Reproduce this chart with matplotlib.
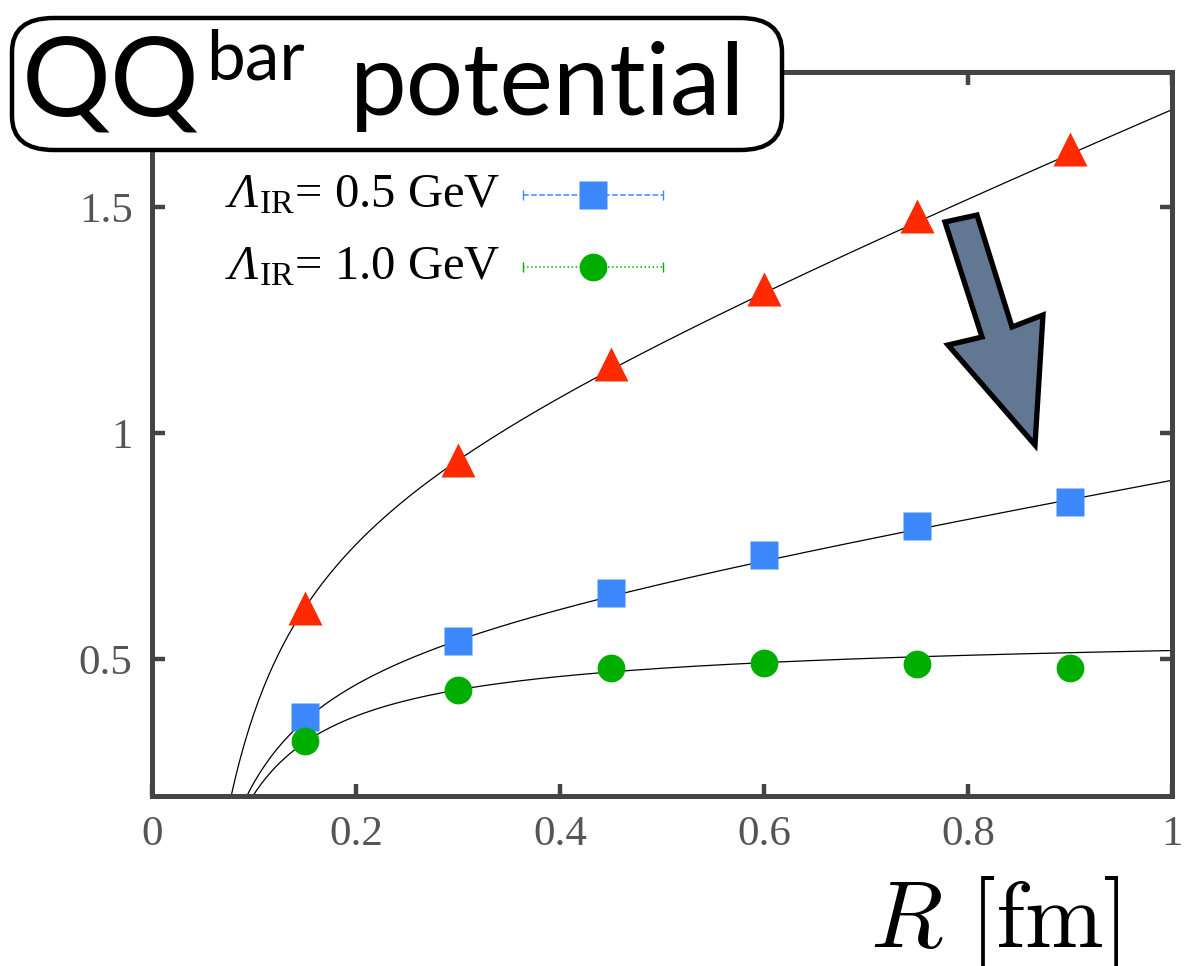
import numpy as np
import matplotlib
matplotlib.use('Agg')
import matplotlib.pyplot as plt
from matplotlib.patches import FancyBboxPatch, Polygon
from matplotlib.lines import Line2D

# data
R = [0.15, 0.30, 0.45, 0.60, 0.75, 0.90]
V_tri = [0.613, 0.941, 1.152, 1.320, 1.480, 1.629]
V_sq = [0.371, 0.540, 0.646, 0.731, 0.795, 0.848]
V_circ = [0.318, 0.431, 0.480, 0.491, 0.489, 0.480]

# fit curves V(R) = c + sigma*R - alpha/R, parameters estimated from the drawn lines
fit_c = [0.851, 0.543, 0.543]
fit_sigma = [0.922, 0.388, 0.0097]
fit_alpha = [0.0564, 0.0356, 0.0344]

legend_sym = 'Λ'
legend_labels = [r'${}_{\mathrm{IR}}$= 0.5 GeV', r'${}_{\mathrm{IR}}$= 1.0 GeV']

xticks = [0, 0.2, 0.4, 0.6, 0.8, 1]
xticklabels = ['0', '0.2', '0.4', '0.6', '0.8', '1']
yticks = [0.5, 1, 1.5]
yticklabels = ['0.5', '1', '1.5']

c_red = '#ff2a00'
c_blue = '#3d88fb'
c_green = '#00ae00'
spine_col = '#454443'

plt.rcParams['mathtext.fontset'] = 'custom'
plt.rcParams['mathtext.rm'] = 'Liberation Serif'
plt.rcParams['mathtext.it'] = 'Liberation Serif:italic'

W, H = 1190, 966
fig = plt.figure(figsize=(W/100, H/100), dpi=100)
ax = fig.add_axes([152/W, 1-796/H, (1172-152)/W, (796-72)/H])

rr = np.linspace(0.05, 1.0, 400)
for c, s, a in zip(fit_c, fit_sigma, fit_alpha):
    ax.plot(rr, c + s*rr - a/rr, '-k', lw=0.9, zorder=2)

ax.plot(R, V_tri, ls='none', marker='^', ms=25, color=c_red, mec='none', zorder=3)
ax.plot(R, V_sq, ls='none', marker='s', ms=20, color=c_blue, mec='none', zorder=3)
ax.plot(R, V_circ, ls='none', marker='o', ms=20, color=c_green, mec='none', zorder=3)

ax.set_xlim(0, 1)
ax.set_ylim(0.196, 1.8)
ax.set_xticks(xticks)
ax.set_xticklabels(xticklabels)
ax.set_yticks(yticks)
ax.set_yticklabels(yticklabels)
ax.tick_params(direction='in', length=9, width=3.2, color=spine_col,
               top=True, right=True, labelsize=31, labelcolor='#555555', pad=14)
for lab in ax.get_xticklabels() + ax.get_yticklabels():
    lab.set_family('Liberation Serif')
for sp in ax.spines.values():
    sp.set_linewidth(3.6)
    sp.set_color(spine_col)

# hand-made legend
renderer = fig.canvas.get_renderer()
for i, (lab, col, mk, ls) in enumerate(zip(legend_labels, [c_blue, c_green], ['s', 'o'], ['--', ':'])):
    ypx = 195 + 72*i
    t = fig.text(500/W, 1-(ypx+12)/H, lab, ha='right', va='baseline',
                 fontsize=35, family='Liberation Serif')
    left = t.get_window_extent(renderer).x0
    fig.text((left - 1)/W, 1-(ypx+12)/H, legend_sym, ha='right', va='baseline',
             fontsize=35, family='Liberation Serif', style='italic')
    yy = 1 - (ypx - 72)/(796-72)
    x0, x1 = (523-152)/1020, (663-152)/1020
    ax.add_line(Line2D([x0, x1], [yy, yy], transform=ax.transAxes, color=col, ls=ls, lw=1.1))
    ax.add_line(Line2D([x0, x1], [yy, yy], transform=ax.transAxes, color=col, ls='none',
                       marker='|', ms=7, mew=1.0))
    ax.add_line(Line2D([(x0+x1)/2], [yy], transform=ax.transAxes, color=col, ls='none',
                       marker=mk, ms=20, mec='none'))

# x label
fig.text(995/W, 1-947/H, r'$R\ [\mathrm{fm}]$', ha='center', va='baseline',
         fontsize=68, math_fontfamily='cm')

# arrow
arrow_px = [(945, 222), (977, 215), (1012, 327), (1043, 315), (1035, 445), (948, 345), (982, 337)]
arr = Polygon([(x/W, 1-y/H) for x, y in arrow_px], closed=True, transform=fig.transFigure,
              facecolor='#627791', edgecolor='black', lw=3.8, joinstyle='miter', zorder=5)
fig.patches.append(arr)

# title box
box = FancyBboxPatch((12/W, 1-150/H), (782-12)/W, (150-18)/H,
                     boxstyle='round,pad=0,rounding_size=0.035', transform=fig.transFigure,
                     facecolor='white', edgecolor='black', lw=3.2, zorder=6)
fig.patches.append(box)
t_qq = fig.text(22/W, 1-115/H, 'QQ', fontsize=80, family='Lato', va='baseline', zorder=7)
qq_right = t_qq.get_window_extent(renderer).x1
fig.text((qq_right + 6)/W, 1-80/H, 'bar', fontsize=50, family='Lato', va='baseline', zorder=7)
fig.text(350/W, 1-115/H, 'potential', fontsize=73, family='Lato', va='baseline', zorder=7)

fig.savefig('out.png', dpi=100)
